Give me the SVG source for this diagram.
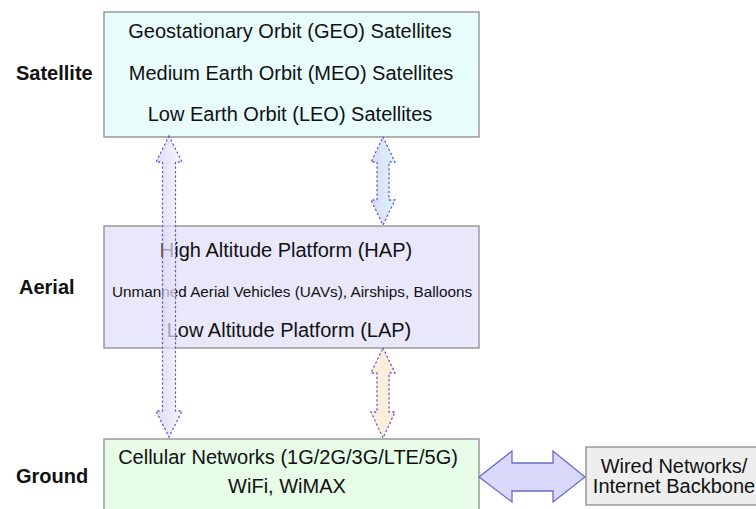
<svg xmlns="http://www.w3.org/2000/svg" width="756" height="509" viewBox="0 0 756 509">
  <style>
    .box { stroke: #8c8c8c; stroke-width: 1.3; }
    .t { font-family: "Liberation Sans", Arial, sans-serif; fill: #111; text-anchor: middle; font-size: 20px; }
    .t.small { font-size: 15.3px; }
    .lbl { font-family: "Liberation Sans", Arial, sans-serif; font-weight: bold; font-size: 20px; fill: #111; }
    .dash { stroke: #6a5acd; stroke-width: 1.3; stroke-dasharray: 1.3 3.2; stroke-linecap: round; }
  </style>
  <defs>
    <linearGradient id="gLav" x1="0" y1="0" x2="1" y2="0">
      <stop offset="0" stop-color="#d2ccf2"/>
      <stop offset="1" stop-color="#f3f2fc"/>
    </linearGradient>
    <linearGradient id="gCyan" x1="0" y1="0" x2="1" y2="0">
      <stop offset="0" stop-color="#dcd8f6"/>
      <stop offset="1" stop-color="#d6f8f8"/>
    </linearGradient>
  </defs>

  <rect width="756" height="509" fill="#ffffff"/>

  <!-- layer labels -->
  <text class="lbl" x="16" y="80">Satellite</text>
  <text class="lbl" x="19" y="294">Aerial</text>
  <text class="lbl" x="16" y="483">Ground</text>

  <g id="satellite">
    <rect class="box" x="104" y="12" width="375" height="125" fill="#e8fcfc"/>
    <text class="t" x="290" y="38">Geostationary Orbit (GEO) Satellites</text>
    <text class="t" x="291" y="80">Medium Earth Orbit (MEO) Satellites</text>
    <text class="t" x="290" y="121">Low Earth Orbit (LEO) Satellites</text>
  </g>

  <g id="aerial">
    <rect class="box" x="104" y="226" width="375" height="122" fill="#e8e8fa"/>
    <text class="t" x="286" y="257">High Altitude Platform (HAP)</text>
    <text class="t small" x="292" y="297">Unmanned Aerial Vehicles (UAVs), Airships, Balloons</text>
    <text class="t" x="289" y="337">Low Altitude Platform (LAP)</text>
  </g>

  <g id="ground">
    <rect class="box" x="104" y="439" width="375" height="80" fill="#e6fce6"/>
    <text class="t" x="288" y="464">Cellular Networks (1G/2G/3G/LTE/5G)</text>
    <text class="t" x="287" y="493">WiFi, WiMAX</text>
  </g>

  <g id="wired">
    <rect class="box" x="586" y="447" width="180" height="58" fill="#eeeeee" stroke="#333"/>
    <text class="t" x="674" y="473">Wired Networks/</text>
    <text class="t" x="674" y="493">Internet Backbone</text>
  </g>

  <g id="connectors">
    <!-- satellite to ground, long double arrow -->
    <path class="dash" fill="url(#gLav)" fill-opacity="0.7" d="M169,136 L182,162 L175.5,162 L175.5,411 L182,411 L169,437 L156,411 L162.5,411 L162.5,162 L156,162 Z"/>
    <!-- satellite to aerial -->
    <path class="dash" fill="url(#gCyan)" d="M383,137 L395,162 L389,162 L389,200 L395,200 L383,225 L371,200 L377,200 L377,162 L371,162 Z"/>
    <!-- aerial to ground -->
    <path class="dash" fill="#fdeedc" d="M383,348 L395,373 L389,373 L389,412 L395,412 L383,438 L371,412 L377,412 L377,373 L371,373 Z"/>
    <!-- ground to wired backbone -->
    <path fill="#d8d8f8" stroke="#6a6acd" stroke-width="1.3" stroke-linejoin="miter" d="M479,477 L512,451 L512,463 L553,463 L553,451 L585,477 L553,502 L553,491 L512,491 L512,502 Z"/>
  </g>
</svg>
